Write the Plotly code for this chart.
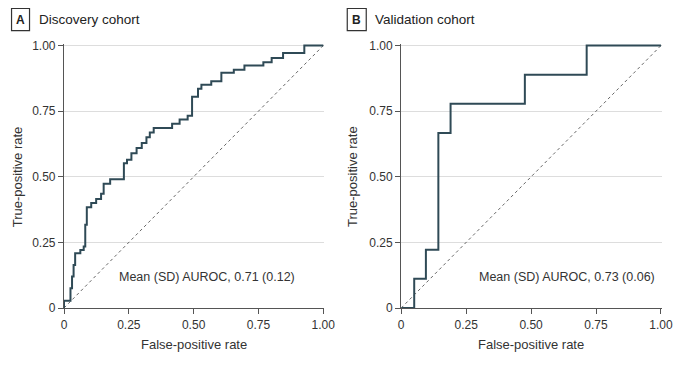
import plotly.graph_objects as go

# Panel A (discovery cohort) ROC points
fpr_a = [0, 0, 0.025, 0.031, 0.037, 0.043, 0.063, 0.076, 0.082, 0.088, 0.105, 0.124, 0.143,
         0.153, 0.178, 0.231, 0.243, 0.26, 0.28, 0.30, 0.318, 0.331, 0.346, 0.417, 0.446,
         0.477, 0.494, 0.494, 0.517, 0.53, 0.568, 0.607, 0.655, 0.696, 0.769, 0.801, 0.845,
         0.927, 1.0]
tpr_a = [0, 0.028, 0.075, 0.12, 0.164, 0.209, 0.221, 0.234, 0.317, 0.384, 0.40, 0.415, 0.435,
         0.473, 0.491, 0.552, 0.565, 0.59, 0.61, 0.629, 0.651, 0.669, 0.686, 0.702, 0.718,
         0.733, 0.745, 0.805, 0.835, 0.851, 0.864, 0.896, 0.908, 0.924, 0.936, 0.953, 0.972,
         1.0, 1.0]

# Panel B (validation cohort) ROC points
fpr_b = [0, 0.05, 0.095, 0.143, 0.19, 0.476, 0.714, 1.0]
tpr_b = [0, 0.111, 0.222, 0.667, 0.778, 0.889, 1.0, 1.0]

tick_vals = [0, 0.25, 0.5, 0.75, 1.0]
tick_text = ["0", "0.25", "0.50", "0.75", "1.00"]
labels = ["A", "B"]
titles = ["Discovery cohort", "Validation cohort"]
auroc_text = ["Mean (SD) AUROC, 0.71 (0.12)", "Mean (SD) AUROC, 0.73 (0.06)"]
x_title = "False-positive rate"
y_title = "True-positive rate"

W, H = 686, 367
OFF = 8  # page body margin
YMAX = 1.006
# target pixel positions (in the screenshot)
X0A, X1A, X0B, X1B, YTOP, YBOT = 63.5, 324, 401, 662, 46, 308
YTOP_AREA = YBOT - (YBOT - YTOP) * YMAX
ML, MT = X0A - OFF, YTOP_AREA - OFF
MR = W - (X1B - OFF)
MB = H - (YBOT - OFF)
PW, PH = W - ML - MR, H - MT - MB


def px(x):
    return (x - OFF - ML) / PW


def py(y):
    return (H - MB - (y - OFF)) / PH


FONT = "Liberation Sans"
TXT = "#333333"
LINE = "#2f4a56"

fig = go.Figure()
for i, (fx, ty) in enumerate([(fpr_a, tpr_a), (fpr_b, tpr_b)]):
    xa = "x" if i == 0 else "x2"
    ya = "y" if i == 0 else "y2"
    fig.add_trace(go.Scatter(x=[0, 1], y=[0, 1], mode="lines", xaxis=xa, yaxis=ya,
                             line=dict(color="#666666", width=1, dash="dot"),
                             showlegend=False, hoverinfo="skip"))
    fig.add_trace(go.Scatter(x=fx, y=ty, mode="lines", xaxis=xa, yaxis=ya,
                             line=dict(color=LINE, width=2, shape="hv"),
                             showlegend=False))

axis_common = dict(tickvals=tick_vals, ticktext=tick_text,
                   showline=True, linecolor="#555555", linewidth=1.2,
                   ticks="outside", ticklen=5, tickcolor="#555555", automargin=False,
                   tickfont=dict(family=FONT, size=12, color=TXT), zeroline=False)

fig.update_layout(
    width=W, height=H, margin=dict(l=ML, r=MR, t=MT, b=MB),
    paper_bgcolor="white", plot_bgcolor="white",
    xaxis=dict(domain=[0, px(X1A)], range=[0, 1.004], showgrid=False, anchor="y", **axis_common),
    yaxis=dict(domain=[0, 1], range=[0, YMAX], showgrid=True, gridcolor="#dddddd", anchor="x", **axis_common),
    xaxis2=dict(domain=[px(X0B), 1], range=[0, 1.004], showgrid=False, anchor="y2", **axis_common),
    yaxis2=dict(domain=[0, 1], range=[0, YMAX], showgrid=True, gridcolor="#dddddd", anchor="x2", **axis_common),
)

box_x = [(11, 29), (347, 366)]
title_x = [36, 373]
xtitle_cx = [194, 531]
ytitle_cx = [17, 353]
for i in range(2):
    x0, x1 = box_x[i]
    fig.add_shape(type="rect", xref="paper", yref="paper",
                  x0=px(x0), x1=px(x1), y0=py(31), y1=py(9),
                  line=dict(color="#333333", width=1.2), fillcolor="white")
    fig.add_annotation(xref="paper", yref="paper", x=px((x0 + x1) / 2), y=py(20),
                       text="<b>%s</b>" % labels[i], showarrow=False,
                       font=dict(family=FONT, size=12, color="#222222"),
                       xanchor="center", yanchor="middle")
    fig.add_annotation(xref="paper", yref="paper", x=px(title_x[i]), y=py(20),
                       text=titles[i], showarrow=False,
                       font=dict(family=FONT, size=13.5, color="#222222"),
                       xanchor="left", yanchor="middle")
    fig.add_annotation(xref="paper", yref="paper", x=px(xtitle_cx[i]), y=py(344),
                       text=x_title, showarrow=False,
                       font=dict(family=FONT, size=13, color=TXT),
                       xanchor="center", yanchor="middle")
    fig.add_annotation(xref="paper", yref="paper", x=px(ytitle_cx[i]), y=py(177),
                       text=y_title, showarrow=False, textangle=-90,
                       font=dict(family=FONT, size=13, color=TXT),
                       xanchor="center", yanchor="middle")

fig.add_annotation(xref="x", yref="y", x=0.897, y=0.117, text=auroc_text[0], showarrow=False,
                   font=dict(family=FONT, size=12.5, color=TXT), xanchor="right", yanchor="middle")
fig.add_annotation(xref="x2", yref="y2", x=0.985, y=0.117, text=auroc_text[1], showarrow=False,
                   font=dict(family=FONT, size=12.5, color=TXT), xanchor="right", yanchor="middle")

fig.write_html("out.html")
